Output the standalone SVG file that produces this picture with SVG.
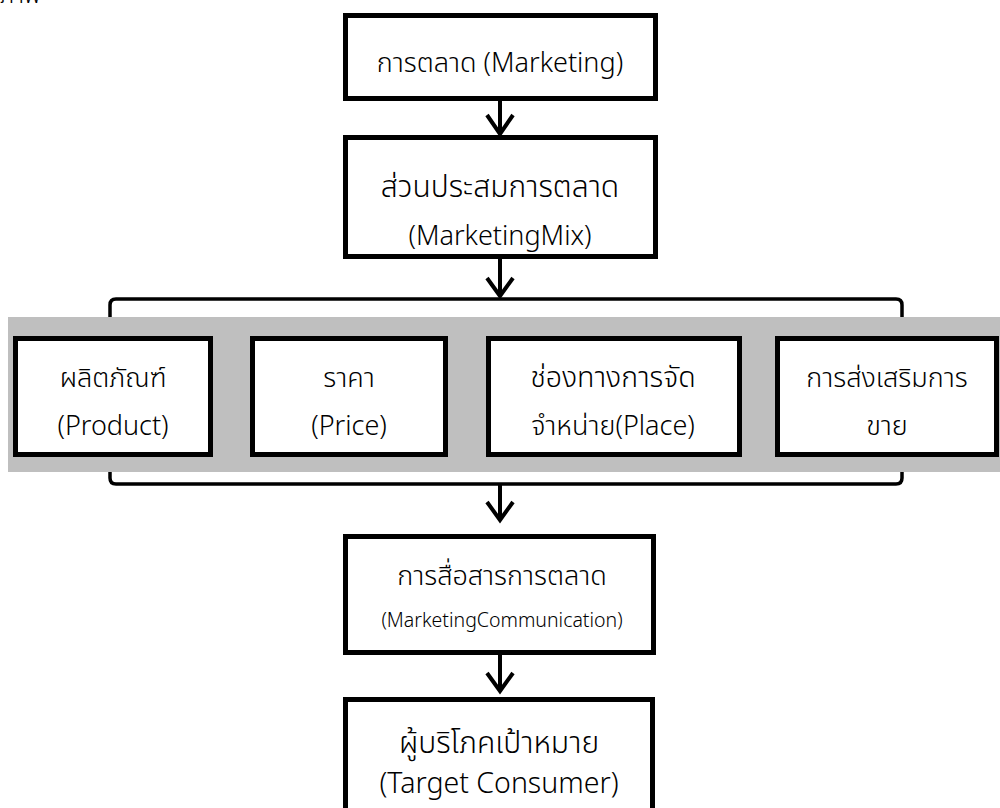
<svg xmlns="http://www.w3.org/2000/svg" width="1000" height="808" viewBox="0 0 1000 808">
<style>
.box{fill:#fff;stroke:#000;stroke-width:5}
.t{font-family:"Noto Sans Thai","Noto Sans","DejaVu Sans",sans-serif;font-size:27px;font-weight:300;fill:#000;text-anchor:middle}
.th{font-size:30px}
.s{font-size:27px}
.xs{font-size:19.5px}
.l{font-size:28.5px}
.ln{fill:none;stroke:#000;stroke-width:4;stroke-linejoin:miter}
.br{fill:none;stroke:#000;stroke-width:3.5}
</style>
<rect width="1000" height="808" fill="#fff"/>
<text x="0" y="3" style="font-family:'Noto Sans Thai','Noto Sans',sans-serif;font-size:24px;font-weight:300">ภาพ</text>
<rect x="8" y="317" width="992" height="155" fill="#BFBFBF"/>
<g id="connectors">
<path class="br" d="M110 317 V305 Q110 299 116 299 H896 Q902 299 902 305 V317"/>
<path class="br" d="M110 472 V478 Q110 484 116 484 H896 Q902 484 902 478 V472"/>
<path class="ln" d="M500 101 V134 M487 115 L500 134 L513 115"/>
<path class="ln" d="M500 259 V296 M487 278 L500 296 L513 278"/>
<path class="ln" d="M500 484 V520 M487 502 L500 520 L513 502"/>
<path class="ln" d="M500 655 V691 M487 673 L500 691 L513 673"/>
</g>
<g id="marketing">
<rect class="box" x="345.5" y="15.5" width="310" height="83"/>
<text class="t" x="500" y="72">การตลาด (Marketing)</text>
</g>
<g id="marketing-mix">
<rect class="box" x="345.5" y="137.5" width="310" height="119"/>
<text class="t th" x="500" y="197">ส่วนประสมการตลาด</text>
<text class="t" x="500" y="245">(MarketingMix)</text>
</g>
<g id="product">
<rect class="box" x="15.5" y="338.5" width="195" height="116"/>
<text class="t" x="113" y="387">ผลิตภัณฑ์</text>
<text class="t" x="113" y="435">(Product)</text>
</g>
<g id="price">
<rect class="box" x="252.5" y="338.5" width="193" height="116"/>
<text class="t" x="349" y="387">ราคา</text>
<text class="t" x="349" y="435">(Price)</text>
</g>
<g id="place">
<rect class="box" x="488.5" y="338.5" width="251" height="116"/>
<text class="t" x="613" y="387" style="font-size:28.5px">ช่องทางการจัด</text>
<text class="t" x="613" y="435">จำหน่าย(Place)</text>
</g>
<g id="promotion">
<rect class="box" x="777.5" y="338.5" width="219" height="116"/>
<text class="t" x="887" y="387">การส่งเสริมการ</text>
<text class="t" x="887" y="435">ขาย</text>
</g>
<g id="communication">
<rect class="box" x="345.5" y="536.5" width="308" height="116"/>
<text class="t s" x="502" y="585">การสื่อสารการตลาด</text>
<text class="t xs" x="502" y="627">(MarketingCommunication)</text>
</g>
<g id="consumer">
<rect class="box" x="345.5" y="699.5" width="307" height="130"/>
<text class="t th" x="499" y="753">ผู้บริโภคเป้าหมาย</text>
<text class="t l" x="499" y="793">(Target Consumer)</text>
</g>
</svg>
